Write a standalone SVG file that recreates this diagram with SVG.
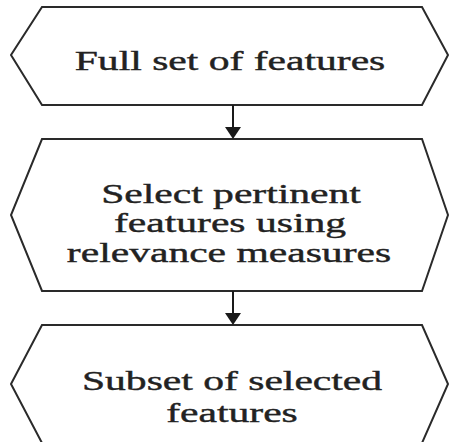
<svg xmlns="http://www.w3.org/2000/svg" width="450" height="442" viewBox="0 0 450 442">
<style>
.hex{fill:#fff;stroke:#2a2a2a;stroke-width:2;stroke-linejoin:miter}
.lbl{font-family:"Liberation Serif","Times New Roman",serif;font-size:27px;fill:#222;stroke:#222;stroke-width:0.4;text-anchor:middle}
.conn{stroke:#1a1a1a;stroke-width:2;fill:none}
.head{fill:#1a1a1a}
</style>
<rect width="450" height="442" fill="#fff"/>
<g id="node1">
<polygon class="hex" points="42,7 422,7 448,55 422,105 42,105 11,55"/>
<text class="lbl" transform="translate(230,70) scale(1.54,1)">Full set of features</text>
</g>
<g id="node2">
<polygon class="hex" points="42,139 422,139 448,215 422,291 42,291 11,215"/>
<text class="lbl" transform="translate(231,203) scale(1.54,1)">Select pertinent</text>
<text class="lbl" transform="translate(230,232) scale(1.54,1)">features using</text>
<text class="lbl" transform="translate(229,262) scale(1.54,1)">relevance measures</text>
</g>
<g id="node3">
<polygon class="hex" points="42,325 422,325 448,384 422,443 42,443 11,384"/>
<text class="lbl" transform="translate(232,390) scale(1.54,1)">Subset of selected</text>
<text class="lbl" transform="translate(232,422) scale(1.54,1)">features</text>
</g>
<g id="connectors">
<line class="conn" x1="233" y1="105" x2="233" y2="128"/>
<polygon class="head" points="225,127 241,127 233,139"/>
<line class="conn" x1="233" y1="291" x2="233" y2="314"/>
<polygon class="head" points="225,313 241,313 233,325"/>
</g>
</svg>
